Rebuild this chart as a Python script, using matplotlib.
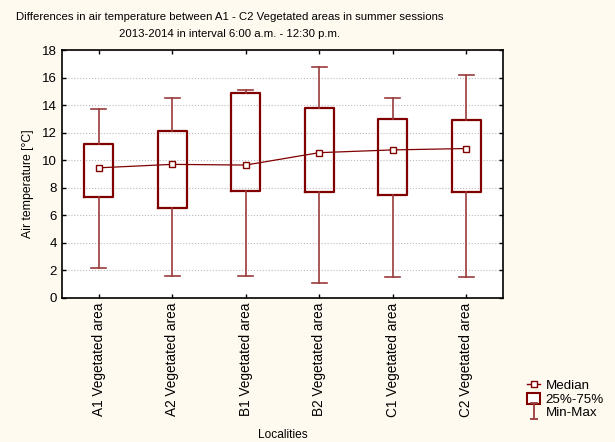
import matplotlib
matplotlib.use('Agg')
import matplotlib.pyplot as plt
from matplotlib.lines import Line2D
from matplotlib.patches import Patch
from matplotlib.path import Path

plt.rcParams['font.family'] = ['Liberation Sans', 'DejaVu Sans']

localities = ["A1 Vegetated area", "A2 Vegetated area", "B1 Vegetated area",
              "B2 Vegetated area", "C1 Vegetated area", "C2 Vegetated area"]
mins = [2.2, 1.6, 1.6, 1.1, 1.5, 1.5]
q1s = [7.3, 6.5, 7.8, 7.7, 7.45, 7.7]
medians = [9.45, 9.7, 9.65, 10.55, 10.75, 10.85]
q3s = [11.15, 12.15, 14.85, 13.8, 13.0, 12.9]
maxs = [13.7, 14.5, 15.1, 16.8, 14.5, 16.2]

red = "#800000"
whisk = "#9a3c3c"
bg = "#fffaef"

fig = plt.figure(figsize=(6.15, 4.42), dpi=100, facecolor=bg)
ax = fig.add_axes([0.1008, 0.3258, 0.717, 0.561])
ax.set_facecolor("white")

stats = []
for name, lo, a, m, b, hi in zip(localities, mins, q1s, medians, q3s, maxs):
    stats.append({"label": name, "whislo": lo, "q1": a, "med": m, "q3": b, "whishi": hi})

pos = list(range(len(localities)))
ax.bxp(stats, positions=pos, widths=0.4, showfliers=False,
       boxprops=dict(color=red, linewidth=1.6),
       whiskerprops=dict(color=whisk, linewidth=1.2),
       capprops=dict(color=whisk, linewidth=1.2),
       medianprops=dict(visible=False), capwidths=0.2, zorder=3)
ax.plot(pos, medians, color=red, linewidth=0.9, marker='s', markersize=5,
        markerfacecolor='white', markeredgecolor=red, markeredgewidth=1, zorder=4)

ax.set_xlim(-0.5, 5.5)
ax.set_ylim(0, 18)
ax.set_yticks(range(0, 19, 2))
ax.set_xticks(pos)
ax.set_xticklabels(localities, rotation=90, fontsize=9.8)
ax.tick_params(axis='y', labelsize=9.5)
ax.tick_params(direction='in', top=True, right=True, length=3, width=1)
ax.grid(axis='y', color='#bbbbbb', linestyle=':', linewidth=0.8, zorder=0)
for s in ax.spines.values():
    s.set_linewidth(1.2)

ax.set_ylabel("Air temperature [°C]", fontsize=8.8)
ax.yaxis.set_label_coords(-0.064, 0.46)
ax.set_xlabel("Localities", fontsize=8.6)
ax.xaxis.set_label_coords(0.501, -0.53)

fig.text(230 / 615, 1 - 17 / 442,
         "Differences in air temperature between A1 - C2 Vegetated areas in summer sessions",
         ha='center', va='center', fontsize=8.2)
fig.text(230 / 615, 1 - 34 / 442,
         "2013-2014 in interval 6:00 a.m. - 12:30 p.m.",
         ha='center', va='center', fontsize=8.2)

imark = Path([(-0.5, 1), (0.5, 1), (0, 1), (0, -1), (-0.5, -1), (0.5, -1)],
             [Path.MOVETO, Path.LINETO, Path.MOVETO, Path.LINETO, Path.MOVETO, Path.LINETO])
handles = [
    Line2D([], [], color=red, linewidth=1, marker='s', markersize=4,
           markerfacecolor='white', markeredgecolor=red),
    Patch(facecolor='white', edgecolor=red, linewidth=1.5),
    Line2D([], [], color=whisk, linestyle='none', marker=imark, markersize=12,
           markeredgewidth=1.3, fillstyle='none'),
]
fig.legend(handles, ["Median", "25%-75%", "Min-Max"], loc='upper left',
           bbox_to_anchor=(515 / 615, 1 - 367 / 442), frameon=False, fontsize=9.6,
           handlelength=1.0, handleheight=0.9, handletextpad=0.4, labelspacing=0.03)

fig.savefig("out.png", dpi=100, facecolor=bg)
